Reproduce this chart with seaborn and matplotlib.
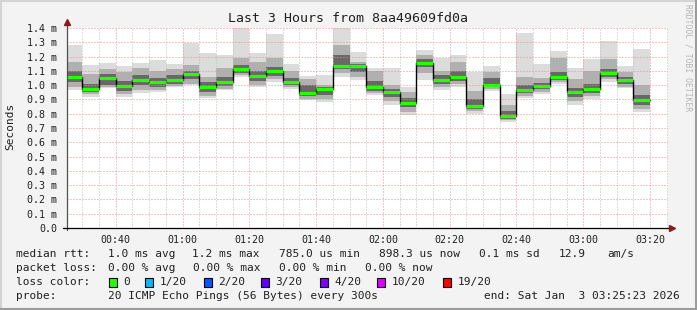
import numpy as np
import pandas as pd
import matplotlib
matplotlib.use("Agg")
import matplotlib.pyplot as plt
from matplotlib.patches import Rectangle
from matplotlib.lines import Line2D
import seaborn as sns

# ---------------- data (milliseconds) ----------------
# bar start times in minutes after 00:00 (first bar starts at 00:25:23)
bar_starts = [25 + 23 / 60] + list(range(30, 200, 5))
bar_end = 200
median = [1.055, 0.976, 1.052, 0.993, 1.036, 1.024, 1.037, 1.077, 0.989, 1.024,
          1.111, 1.064, 1.099, 1.020, 0.943, 0.971, 1.134, 1.134, 0.985, 0.950,
          0.878, 1.157, 1.036, 1.055, 0.854, 1.000, 0.785, 0.967, 0.996, 1.055,
          0.950, 0.975, 1.086, 1.036, 0.898]
ping_max = [1.281, 1.141, 1.157, 1.136, 1.157, 1.178, 1.150, 1.297, 1.227, 1.211,
            1.45, 1.222, 1.358, 1.148, 1.063, 1.071, 1.45, 1.229, 1.122, 1.122,
            0.989, 1.246, 1.192, 1.211, 1.094, 1.137, 0.938, 1.367, 1.145, 1.239,
            1.118, 1.182, 1.309, 1.137, 1.253]
ping_p90 = [1.164, 1.075, 1.11, 1.09, 1.12, 1.10, 1.11, 1.14, 1.06, 1.12,
            1.19, 1.16, 1.19, 1.10, 1.04, 1.0, 1.28, 1.16, 1.10, 1.0,
            0.95, 1.21, 1.10, 1.16, 0.96, 1.09, 0.86, 1.06, 1.05, 1.19,
            1.04, 1.10, 1.18, 1.09, 1.0]
ping_p75 = [1.10, 1.01, 1.075, 1.03, 1.07, 1.05, 1.07, 1.10, 1.02, 1.06,
            1.14, 1.10, 1.13, 1.05, 1.0, 0.985, 1.21, 1.145, 1.03, 0.975,
            0.91, 1.18, 1.07, 1.10, 0.90, 1.05, 0.82, 1.0, 1.015, 1.09,
            0.98, 1.01, 1.11, 1.06, 0.93]
ping_p25 = [1.02, 0.95, 1.0, 0.96, 1.0, 0.99, 1.01, 1.04, 0.955, 0.995,
            1.085, 1.03, 1.065, 1.0, 0.925, 0.93, 1.11, 1.09, 0.96, 0.92,
            0.845, 1.13, 1.01, 1.03, 0.835, 0.985, 0.765, 0.945, 0.975, 1.035,
            0.92, 0.945, 1.06, 1.01, 0.86]
ping_p10 = [0.99, 0.935, 0.985, 0.935, 0.965, 0.965, 0.995, 1.01, 0.925, 0.975,
            1.07, 1.0, 1.04, 0.985, 0.905, 0.90, 1.085, 1.06, 0.945, 0.89,
            0.815, 1.085, 0.99, 1.005, 0.82, 0.97, 0.755, 0.925, 0.955, 1.02,
            0.89, 0.925, 1.04, 0.99, 0.835]
ping_min = [0.966, 0.92, 0.978, 0.92, 0.945, 0.95, 0.99, 1.0, 0.908, 0.966,
            1.06, 0.99, 1.024, 0.975, 0.896, 0.884, 1.06, 1.036, 0.931, 0.861,
            0.79, 1.036, 0.966, 0.985, 0.80, 0.957, 0.744, 0.908, 0.935, 1.005,
            0.861, 0.905, 1.024, 0.978, 0.81]

x_tick_pos = [40, 60, 80, 100, 120, 140, 160, 180, 200]
x_tick_labels = ["00:40", "01:00", "01:20", "01:40", "02:00", "02:20", "02:40", "03:00", "03:20"]
y_ticks = [i / 10 for i in range(15)]
y_tick_labels = ["0.0"] + [f"{v:.1f} m" for v in y_ticks[1:]]

title = "Last 3 Hours from 8aa49609fd0a"
loss_labels = ["0", "1/20", "2/20", "3/20", "4/20", "10/20", "19/20"]
loss_colors = ["#26ff00", "#00b8ff", "#0059ff", "#5e00ff", "#7e00ff", "#dd00ff", "#ff0000"]

# ---------------- figure ----------------
sns.set_style("white")
MONO = ["DejaVu Sans Mono"]
plt.rcParams["font.family"] = MONO

W, H = 697, 310
fig = plt.figure(figsize=(W / 100, H / 100), dpi=100, facecolor="#f3f3f3")

def fx(px):
    return px / W

def fy(py):
    return 1 - py / H

# frame
fig.add_artist(Line2D([0, 1], [fy(0.7), fy(0.7)], transform=fig.transFigure, color="#d4d4d4", lw=1.5))
fig.add_artist(Line2D([fx(0.7), fx(0.7)], [0, 1], transform=fig.transFigure, color="#d4d4d4", lw=1.5))
fig.add_artist(Line2D([0, 1], [fy(309.2), fy(309.2)], transform=fig.transFigure, color="#9c9c9c", lw=1.5))
fig.add_artist(Line2D([fx(696.2), fx(696.2)], [0, 1], transform=fig.transFigure, color="#9c9c9c", lw=1.5))

ax = fig.add_axes([fx(67), fy(228), (668 - 67) / W, 200 / H])
ax.set_facecolor("white")

df = pd.DataFrame({
    "t": bar_starts + [bar_end],
    "med": median + [median[-1]],
    "mx": ping_max + [ping_max[-1]],
    "p90": ping_p90 + [ping_p90[-1]],
    "p75": ping_p75 + [ping_p75[-1]],
    "p25": ping_p25 + [ping_p25[-1]],
    "p10": ping_p10 + [ping_p10[-1]],
    "mn": ping_min + [ping_min[-1]],
})

ax.fill_between(df["t"], df["mn"], df["mx"], step="post", color="#dcdcdc", lw=0, zorder=1)
ax.fill_between(df["t"], df["p10"], df["p90"], step="post", color="#b0b0b0", lw=0, zorder=1.1)
ax.fill_between(df["t"], df["p25"], df["p75"], step="post", color="#686868", lw=0, zorder=1.2)

sns.lineplot(data=df, x="t", y="med", drawstyle="steps-post", color="black", lw=1.0,
             ax=ax, zorder=3, estimator=None, sort=False)
ax.hlines(median, bar_starts, bar_starts[1:] + [bar_end], color="#26ff00", lw=2.3, zorder=4)

ax.set_xlim(25 + 23 / 60, 205 + 23 / 60)
ax.set_ylim(0, 1.4)
ax.set_xlabel("")
ax.set_ylabel("")

ax.set_xticks(x_tick_pos)
ax.set_xticklabels(x_tick_labels, fontsize=7.2, family=MONO)
ax.set_xticks(list(range(30, 206, 5)), minor=True)
ax.set_yticks(y_ticks)
ax.set_yticklabels(y_tick_labels, fontsize=7.2, family=MONO)
ax.tick_params(axis="x", which="major", length=2, color="#f09090", pad=3, labelcolor="#202020")
ax.tick_params(axis="x", which="minor", length=1.5, color="#c0c0c0")
ax.tick_params(axis="y", which="major", length=2, color="#c0c0c0", pad=5, labelcolor="#202020")

ax.set_axisbelow(False)
ax.grid(which="major", axis="both", color="#ee8c8c", ls=(0, (1, 2)), lw=0.72)
ax.grid(which="minor", axis="x", color="#bcbcbc", ls=(0, (1, 2)), lw=0.72)
for s in ax.spines.values():
    s.set_visible(False)

# axis lines with arrows
ax.plot([0, 0], [-0.01, 1.025], transform=ax.transAxes, color="#505050", lw=0.9, clip_on=False, zorder=5)
ax.plot([-0.006, 1.004], [0, 0], transform=ax.transAxes, color="black", lw=0.9, clip_on=False, zorder=5)
ax.plot([0], [1.028], marker="^", ms=4.5, color="#8b1a1a", transform=ax.transAxes, clip_on=False, zorder=6)
ax.plot([1.007], [0], marker=">", ms=4.5, color="#8b1a1a", transform=ax.transAxes, clip_on=False, zorder=6)

# texts
fig.text(fx(348), fy(18), title, ha="center", va="center", fontsize=9.5, family=MONO, color="#202020")
fig.text(fx(10), fy(126), "Seconds", rotation=90, ha="center", va="center", fontsize=8, family=MONO, color="#202020")
fig.text(fx(688), fy(4), "RRDTOOL / TOBI OETIKER", rotation=270, ha="center", va="top",
         fontsize=5.8, family=MONO, color="#b4b4b4")

LF = 8
tc = "#202020"
row1 = [(16, "median rtt:"), (108, "1.0 ms avg"), (192, "1.2 ms max"), (279, "785.0 us min"),
        (379, "898.3 us now"), (479, "0.1 ms sd"), (559, "12.9"), (607, "am/s")]
row2 = [(16, "packet loss:"), (108, "0.00 % avg"), (193, "0.00 % max"), (279, "0.00 % min"), (365, "0.00 % now")]
for x, s in row1:
    fig.text(fx(x), fy(254), s, ha="left", va="center", fontsize=LF, family=MONO, color=tc)
for x, s in row2:
    fig.text(fx(x), fy(268), s, ha="left", va="center", fontsize=LF, family=MONO, color=tc)

fig.text(fx(16), fy(282), "loss color:", ha="left", va="center", fontsize=LF, family=MONO, color=tc)
box_x = [108.5, 145, 203.5, 261, 319.5, 377, 442.5]
lab_x = [123, 160, 218, 275.5, 334, 391.5, 458]
for bx, lx, lab, col in zip(box_x, lab_x, loss_labels, loss_colors):
    fig.add_artist(Rectangle((fx(bx), fy(287)), 8 / W, 9 / H, transform=fig.transFigure,
                             facecolor=col, edgecolor="black", lw=0.8))
    fig.text(fx(lx), fy(282), lab, ha="left", va="center", fontsize=LF, family=MONO, color=tc)

fig.text(fx(16), fy(296), "probe:", ha="left", va="center", fontsize=LF, family=MONO, color=tc)
fig.text(fx(108), fy(296), "20 ICMP Echo Pings (56 Bytes) every 300s", ha="left", va="center",
         fontsize=LF, family=MONO, color=tc)
fig.text(fx(680), fy(296), "end: Sat Jan  3 03:25:23 2026", ha="right", va="center",
         fontsize=LF, family=MONO, color=tc)

fig.savefig("out.png", dpi=100, facecolor=fig.get_facecolor())
